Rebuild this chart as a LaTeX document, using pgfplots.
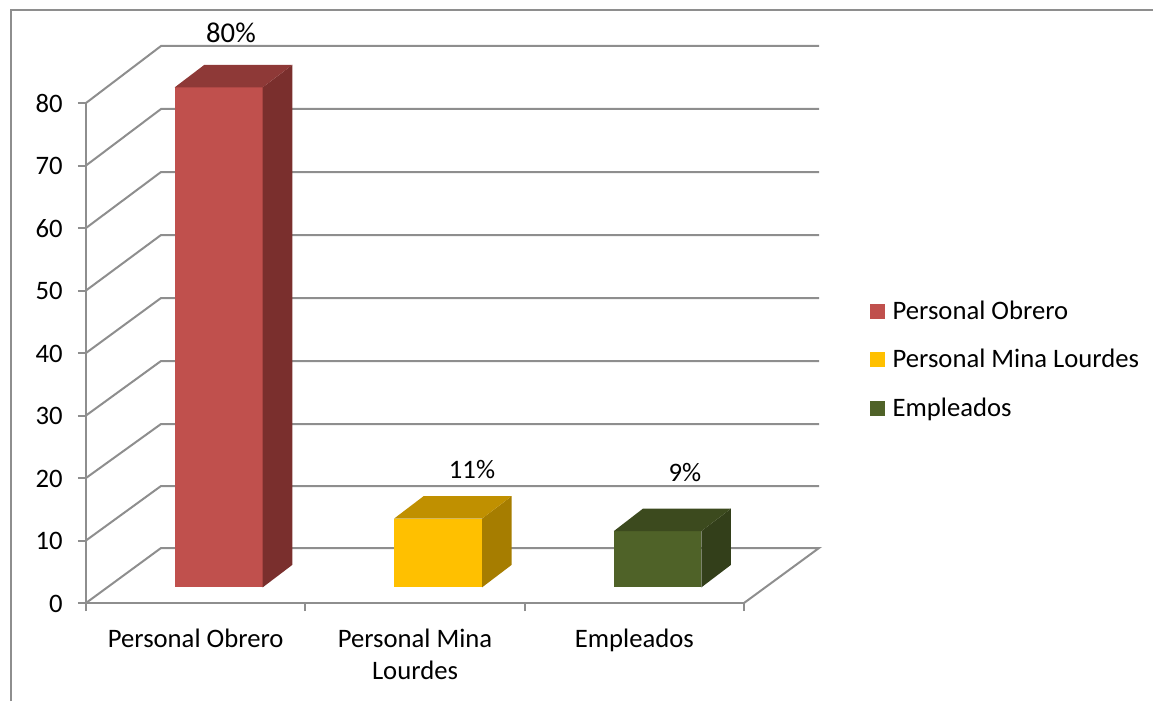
\documentclass[border=0pt]{standalone}
\usepackage{fontspec}
\setmainfont{Carlito}
\usepackage{pgfplots}
\pgfplotsset{compat=1.18}
\definecolor{ax}{HTML}{8E8E8E}
\definecolor{rF}{HTML}{C0504D}\definecolor{rS}{HTML}{7A2F2D}\definecolor{rT}{HTML}{8E3937}
\definecolor{yF}{HTML}{FFC000}\definecolor{yS}{HTML}{A67D00}\definecolor{yT}{HTML}{C09000}
\definecolor{gF}{HTML}{4F6228}\definecolor{gS}{HTML}{333F1A}\definecolor{gT}{HTML}{3C4A1E}
\newcommand{\lbl}{\fontsize{20}{24}\selectfont}
\begin{document}
\begin{tikzpicture}[x=0.75pt,y=0.75pt]
\path[use as bounding box] (-86,-98) rectangle (1067,603);
\draw[ax,line width=1.5pt] (-75,-98) -- (-75,593) -- (1067,593);
\begin{axis}[
  at={(0,0)},anchor=south west,scale only axis,
  width=493.5pt,height=375pt,
  xmin=-0.5,xmax=2.5,ymin=0,ymax=80,clip=false,
  axis x line*=bottom,axis y line*=left,
  axis line style={ax,line width=1.5pt,-},
  tick align=outside,
  major tick length=6pt,minor tick length=6pt,
  ytick={0,10,...,80},
  every y tick/.style={ax,line width=1.5pt},
  xtick={0,1,2},
  xticklabels={Personal Obrero,Personal Mina\\Lourdes,Empleados},
  major x tick style={draw=none},
  minor xtick={-0.5,0.5,1.5,2.5},
  minor x tick style={ax,line width=1.5pt},
  /pgf/number format/assume math mode=true,
  tick label style={font=\lbl,black},
  x tick label style={align=center,yshift=-10pt},
  y tick label style={xshift=-8pt,yshift=-0.5pt},
  legend style={draw=none,fill=none,at={(axis cs:3.055,49.25)},anchor=north west,
    font=\lbl,row sep=17pt,/tikz/every even column/.style={column sep=0pt}},
  legend cell align=left,
  legend image code/.code={\fill[#1] (0pt,-5.6pt) rectangle (11.25pt,5.6pt);\path (15pt,0pt);},
]
% back wall and side wall grid
\addplot[ax,line width=1.5pt,forget plot] coordinates {(-0.5,0)(-0.158,8.8)(2.842,8.8)(2.5,0)};
\addplot[ax,line width=1.5pt,forget plot] coordinates {(-0.5,10)(-0.158,18.72)(2.842,18.72)};
\addplot[ax,line width=1.5pt,forget plot] coordinates {(-0.5,20)(-0.158,28.64)(2.842,28.64)};
\addplot[ax,line width=1.5pt,forget plot] coordinates {(-0.5,30)(-0.158,38.72)(2.842,38.72)};
\addplot[ax,line width=1.5pt,forget plot] coordinates {(-0.5,40)(-0.158,48.8)(2.842,48.8)};
\addplot[ax,line width=1.5pt,forget plot] coordinates {(-0.5,50)(-0.158,58.88)(2.842,58.88)};
\addplot[ax,line width=1.5pt,forget plot] coordinates {(-0.5,60)(-0.158,68.96)(2.842,68.96)};
\addplot[ax,line width=1.5pt,forget plot] coordinates {(-0.5,70)(-0.158,79.04)(2.842,79.04)};
\addplot[ax,line width=1.5pt,forget plot] coordinates {(-0.5,80)(-0.158,89.12)(2.842,89.12)};
% Personal Obrero: 80
\addplot[draw=none,fill=rF,forget plot] coordinates {(-0.0956,2.5)(0.3056,2.5)(0.3056,82.5)(-0.0956,82.5)} --cycle;
\addplot[draw=none,fill=rS,forget plot] coordinates {(0.3056,2.5)(0.4406,6.1)(0.4406,86.1)(0.3056,82.5)} --cycle;
\addplot[draw=none,fill=rT,forget plot] coordinates {(-0.0956,82.5)(0.3056,82.5)(0.4406,86.1)(0.0394,86.1)} --cycle;
% Personal Mina Lourdes: 11
\addplot[draw=none,fill=yF,forget plot] coordinates {(0.9044,2.5)(1.3056,2.5)(1.3056,13.5)(0.9044,13.5)} --cycle;
\addplot[draw=none,fill=yS,forget plot] coordinates {(1.3056,2.5)(1.4406,6.1)(1.4406,17.1)(1.3056,13.5)} --cycle;
\addplot[draw=none,fill=yT,forget plot] coordinates {(0.9044,13.5)(1.3056,13.5)(1.4406,17.1)(1.0394,17.1)} --cycle;
% Empleados: 9
\addplot[draw=none,fill=gF,forget plot] coordinates {(1.9064,2.5)(2.3056,2.5)(2.3056,11.5)(1.9064,11.5)} --cycle;
\addplot[draw=none,fill=gS,forget plot] coordinates {(2.3056,2.5)(2.4406,6.1)(2.4406,15.1)(2.3056,11.5)} --cycle;
\addplot[draw=none,fill=gT,forget plot] coordinates {(1.9064,11.5)(2.3056,11.5)(2.4406,15.1)(2.0394,15.1)} --cycle;
\addlegendimage{fill=rF,draw=none}\addlegendentry{Personal Obrero}
\addlegendimage{fill=yF,draw=none}\addlegendentry{Personal Mina Lourdes}
\addlegendimage{fill=gF,draw=none}\addlegendentry{Empleados}
\node[font=\fontsize{21.5}{24}\selectfont] at (axis cs:0.161,91.3) {80\%};
\node[font=\lbl] at (axis cs:1.26,21.3) {11\%};
\node[font=\lbl] at (axis cs:2.231,20.8) {9\%};
\end{axis}
\end{tikzpicture}
\end{document}
